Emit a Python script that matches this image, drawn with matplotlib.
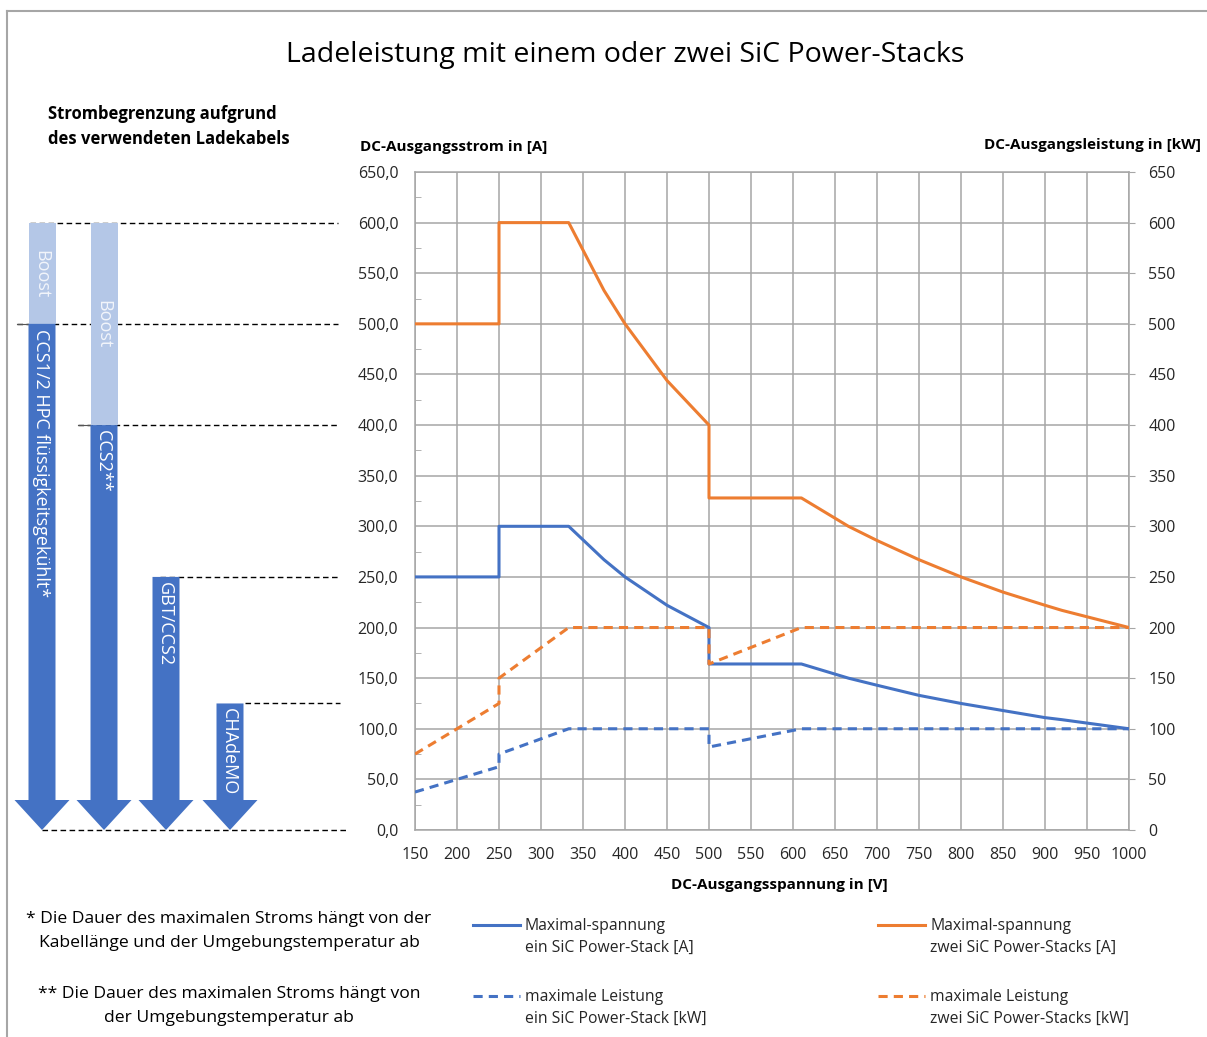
import matplotlib
matplotlib.use("Agg")
import matplotlib.pyplot as plt
from matplotlib.patches import Polygon
from matplotlib.lines import Line2D
from matplotlib.ticker import MultipleLocator, FuncFormatter

# === DATA ===
# current curves (left axis, A)
volt_current = [150, 250, 250, 333, 375, 400, 450, 500, 500, 610, 666, 700, 750, 800, 850, 900, 920, 1000]
current_one = [250, 250, 300, 300, 267, 250, 222, 200, 164, 164, 150, 143, 133, 125, 118, 111, 109, 100]
current_two = [500, 500, 600, 600, 533, 500, 444, 400, 328, 328, 300, 286, 267, 250, 235, 222, 217, 200]

# power curves (right axis, kW)
volt_power = [150, 250, 250, 333, 500, 500, 610, 1000]
power_one = [37.5, 62.5, 75, 100, 100, 82, 100, 100]
power_two = [75, 125, 150, 200, 200, 164, 200, 200]

# cable limits (A)
cable_names = ["CCS1/2 HPC flüssigkeitsgekühlt*", "CCS2**", "GBT/CCS2", "CHAdeMO"]
cable_boost = [600, 600, 250, 125]
cable_nominal = [500, 400, 250, 125]

title = "Ladeleistung mit einem oder zwei SiC Power-Stacks"
legend_labels = ["Maximal-spannung\nein SiC Power-Stack [A]",
                 "Maximal-spannung\nzwei SiC Power-Stacks [A]",
                 "maximale Leistung\nein SiC Power-Stack [kW]",
                 "maximale Leistung\nzwei SiC Power-Stacks [kW]"]
note_1 = "* Die Dauer des maximalen Stroms hängt von der\nKabellänge und der Umgebungstemperatur ab"
note_2 = "** Die Dauer des maximalen Stroms hängt von\nder Umgebungstemperatur ab"

# === STYLE ===
BLUE = "#4472C4"
ORANGE = "#ED7D31"
LIGHT = "#B4C7E7"
GRID = "#A6A6A6"
TXT = "#262626"
plt.rcParams["font.family"] = ["Open Sans", "DejaVu Sans"]

W, H = 1207, 1037
fig = plt.figure(figsize=(W / 100, H / 100), dpi=100)


def fx(x):
    return x / W


def fy(y):
    return 1 - y / H


# outer frame (left + top)
fig.add_artist(Line2D([fx(7), fx(7)], [fy(11), 0], color="#A6A6A6", lw=1.5))
fig.add_artist(Line2D([fx(7), 1], [fy(11), fy(11)], color="#A6A6A6", lw=1.5))

# === MAIN AXES ===
ax_box = [fx(415), fy(830), (1129 - 415) / W, (830 - 172) / H]
ax = fig.add_axes(ax_box)
ax.plot(volt_current, current_one, color=BLUE, lw=2.2, zorder=4)
ax.plot(volt_current, current_two, color=ORANGE, lw=2.2, zorder=4)
ax.set_xlim(150, 1000)
ax.set_ylim(0, 650)
ax.xaxis.set_major_locator(MultipleLocator(50))
ax.yaxis.set_major_locator(MultipleLocator(50))
ax.yaxis.set_minor_locator(MultipleLocator(25))
ax.yaxis.set_major_formatter(FuncFormatter(lambda v, p: f"{v:.1f}".replace(".", ",")))
ax.grid(True, color=GRID, lw=1.1)
for s in ax.spines.values():
    s.set_color(GRID)
    s.set_linewidth(1.1)
ax.tick_params(axis="y", which="major", length=0, pad=12, labelsize=11.5, labelcolor=TXT)
ax.tick_params(axis="y", which="minor", direction="in", length=4, color=GRID)
ax.tick_params(axis="x", length=0, pad=12, labelsize=11.5, labelcolor=TXT)

ax2 = ax.twinx()
ax2.plot(volt_power, power_one, color=BLUE, lw=2.2, dashes=(3, 2), zorder=3)
ax2.plot(volt_power, power_two, color=ORANGE, lw=2.2, dashes=(3, 2), zorder=3)
ax2.set_ylim(0, 650)
ax2.yaxis.set_major_locator(MultipleLocator(50))
for s in ax2.spines.values():
    s.set_visible(False)
ax2.tick_params(axis="y", length=4, color=GRID, pad=10, labelsize=11.5, labelcolor=TXT)

# === LEFT PANEL: cable limits ===
lax = fig.add_axes([0, ax_box[1], fx(350), ax_box[3]])
lax.set_xlim(0, 350)
lax.set_ylim(0, 650)
lax.axis("off")

px_to_A = 650 / (830 - 172)
head_h = 30 * px_to_A
shaft_w, head_w = 13.5, 27.5
centers = [42, 104, 166, 230]
boost_offset = [27, 77, 0, 0]   # px below arrow top where "Boost" starts

# dashed reference lines
ref_levels = [600, 500, 400, 250, 125, 0]
ref_start = [30, 17, 78, 160, 245, 42]
ref_end = [338, 338, 338, 340, 340, 348]
for lvl, x0, x1 in zip(ref_levels, ref_start, ref_end):
    lax.plot([x0, x1], [lvl, lvl], color="black", lw=1.0, dashes=(4, 2.5), zorder=1, clip_on=False)
lax.plot([17, 29], [500, 500], color="#555555", lw=0.8, zorder=1, clip_on=False)
lax.plot([78, 91], [400, 400], color="#555555", lw=0.8, zorder=1, clip_on=False)

for c, top, nom, name, bo in zip(centers, cable_boost, cable_nominal, cable_names, boost_offset):
    if top > nom:
        lax.add_patch(Polygon([(c - shaft_w, nom), (c + shaft_w, nom), (c + shaft_w, top), (c - shaft_w, top)],
                              closed=True, facecolor=LIGHT, edgecolor="none", zorder=2))
        lax.text(c - 1, top - bo * px_to_A, "Boost", rotation=270, ha="center", va="top",
                 color="#F2F5FB", fontsize=13, zorder=3)
    lax.add_patch(Polygon([(c - shaft_w, nom), (c + shaft_w, nom), (c + shaft_w, head_h),
                           (c + head_w, head_h), (c, 0), (c - head_w, head_h), (c - shaft_w, head_h)],
                          closed=True, facecolor=BLUE, edgecolor="none", zorder=2))
    lax.text(c - 1, nom - 5 * px_to_A, name, rotation=270, ha="center", va="top",
             color="white", fontsize=13, zorder=3)

# === TEXTS ===
fig.text(fx(625), fy(55), title, ha="center", va="center", fontsize=20.5, color="black")
fig.text(fx(48), fy(105), "Strombegrenzung aufgrund\ndes verwendeten Ladekabels", ha="left", va="top",
         fontsize=12, fontweight="bold", color="black", linespacing=1.5)
fig.text(fx(360), fy(147), "DC-Ausgangsstrom in [A]", ha="left", va="center",
         fontsize=11, fontweight="bold", color="black")
fig.text(fx(1201), fy(145), "DC-Ausgangsleistung in [kW]", ha="right", va="center",
         fontsize=11, fontweight="bold", color="black")
fig.text(fx(779), fy(885), "DC-Ausgangsspannung in [V]", ha="center", va="center",
         fontsize=11, fontweight="bold", color="black")

fig.text(fx(229), fy(931), note_1, ha="center", va="center", multialignment="center",
         fontsize=12.6, color="black", linespacing=1.65)
fig.text(fx(229), fy(1006), note_2, ha="center", va="center", multialignment="center",
         fontsize=12.6, color="black", linespacing=1.65)

# === LEGEND (manual) ===
leg_x = [473, 878, 473, 878]
leg_y = [925, 925, 996, 996]
leg_col = [BLUE, ORANGE, BLUE, ORANGE]
leg_dash = [None, None, (3, 2), (3, 2)]
for x, y, col, d, lab in zip(leg_x, leg_y, leg_col, leg_dash, legend_labels):
    ln = Line2D([fx(x), fx(x + 47)], [fy(y), fy(y)], color=col, lw=2.2)
    if d:
        ln.set_dashes(d)
    fig.add_artist(ln)
    fig.text(fx(x + 52), fy(y - 7), lab, ha="left", va="top", fontsize=11.3,
             color=TXT, linespacing=1.45)

fig.savefig("out.png", dpi=100)
